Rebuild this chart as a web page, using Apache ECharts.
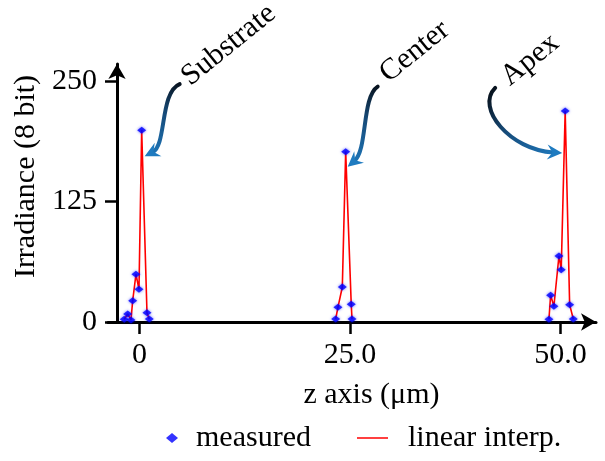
<!DOCTYPE html>
<html><head><meta charset="utf-8">
<script src="https://cdn.jsdelivr.net/npm/echarts@6/dist/echarts.min.js"></script>
<style>html,body{margin:0;padding:0;background:#fff}#c{width:605px;height:461px}</style>
</head><body><div id="c"></div>
<script>
// ---- data ----
const substrateZ = [-1.81, -1.40, -1.01, -0.81, -0.42, -0.06, 0.26, 0.89, 1.16];
const substrateI = [2.8, 8.3, 2.1, 22, 49.5, 34, 199, 9.6, 3];
const centerZ = [23.30, 23.57, 24.09, 24.49, 25.15, 25.24];
const centerI = [3.1, 15.2, 36.3, 176.7, 18.3, 3.1];
const apexZ = [48.63, 48.83, 49.22, 49.82, 50.09, 50.56, 51.09, 51.52];
const apexI = [2.8, 27.7, 16.3, 68.5, 54.3, 218.9, 18, 3.1];
const xTicks = [0, 25, 50];
const yTicks = [0, 125, 250];
const annotationLabels = ['Substrate', 'Center', 'Apex'];

const FONT = '"Liberation Serif", "Times New Roman", serif';
const pairs = (zs, is) => zs.map((z, i) => [z, is[i]]);
const clusters = [pairs(substrateZ, substrateI), pairs(centerZ, centerI), pairs(apexZ, apexI)];
const allPts = [].concat(...clusters);

const chart = echarts.init(document.getElementById('c'), null, {renderer: 'canvas'});

const lineSeries = clusters.map(c => ({
  name: 'linear interp.', type: 'line', data: c, symbol: 'none',
  lineStyle: {color: '#ff0000', width: 1.6}, itemStyle: {color: '#ff0000'}, z: 2, silent: true
}));

const option = {
  animation: false,
  backgroundColor: '#fff',
  grid: {left: 108, right: 9, top: 64, bottom: 139, containLabel: false},
  xAxis: {
    type: 'value', min: -3.74, max: 54.22,
    name: 'z axis (μm)', nameLocation: 'middle', nameGap: 58,
    nameTextStyle: {fontFamily: FONT, fontSize: 30, color: '#000', padding: [0, 0, 0, 39]},
    axisLine: {onZero: false, symbol: ['none', 'arrow'], symbolSize: [13, 15], lineStyle: {color: '#000', width: 3}},
    axisTick: {customValues: xTicks, length: 12, lineStyle: {color: '#000', width: 2.5}},
    axisLabel: {customValues: xTicks, margin: 18, fontFamily: FONT, fontSize: 30, color: '#000',
      formatter: v => v === 0 ? '0' : v.toFixed(1)},
    splitLine: {show: false}
  },
  yAxis: {
    type: 'value', min: 0, max: 267.6, offset: -9,
    name: 'Irradiance (8 bit)', nameLocation: 'middle', nameGap: 66,
    nameTextStyle: {fontFamily: FONT, fontSize: 30, color: '#000', padding: [0, 0, 0, 33]},
    axisLine: {onZero: false, symbol: ['none', 'arrow'], symbolSize: [13, 15], lineStyle: {color: '#000', width: 3}},
    axisTick: {customValues: yTicks, length: 12, lineStyle: {color: '#000', width: 2.5}},
    axisLabel: {customValues: yTicks, margin: 20, fontFamily: FONT, fontSize: 30, color: '#000'},
    splitLine: {show: false}
  },
  legend: [
    {data: [{name: 'measured', icon: 'diamond'}], left: 166, top: 423, padding: 0, itemWidth: 12, itemHeight: 10,
      textStyle: {fontFamily: FONT, fontSize: 30, color: '#000', padding: [0, 0, 0, 13]}, selectedMode: false},
    {data: [{name: 'linear interp.', icon: 'rect'}], left: 357, top: 423, padding: 0, itemWidth: 31, itemHeight: 2,
      itemStyle: {color: '#ff4040'},
      textStyle: {fontFamily: FONT, fontSize: 30, color: '#000', padding: [0, 0, 0, 15]}, selectedMode: false}
  ],
  series: lineSeries.concat([{
    name: 'measured', type: 'scatter', data: allPts, symbol: 'diamond', symbolSize: [9, 7],
    itemStyle: {color: '#0000ff', shadowBlur: 3, shadowColor: 'rgba(0,0,255,0.7)'}, z: 3, silent: true
  }])
};
chart.setOption(option);

// ---- annotations anchored to the peak of each cluster ----
const peakIdx = [6, 3, 5];
const geom = [
  {p0: [38, -46], p1: [18, -38], p2: [25, 15], tip: [3, 26], text: [87, -85]},
  {p0: [32, -65], p1: [16, -55], p2: [22, -2], tip: [2, 15], text: [69, -100]},
  {p0: [-70, -23], p1: [-90, -3], p2: [-55, 39], tip: [-3, 42], text: [-35, -51]}
];
const graphics = [];
clusters.forEach((c, k) => {
  const pk = chart.convertToPixel({gridIndex: 0}, c[peakIdx[k]]);
  const g = geom[k];
  const P = a => [pk[0] + a[0], pk[1] + a[1]];
  const p0 = P(g.p0), p1 = P(g.p1), p2 = P(g.p2), tip = P(g.tip);
  let dx = tip[0] - p2[0], dy = tip[1] - p2[1];
  const L = Math.hypot(dx, dy); dx /= L; dy /= L;
  const nx = -dy, ny = dx;
  const hl = 15, hw = 7.5;
  const end = [tip[0] - dx * 9, tip[1] - dy * 9];
  const grad = new echarts.graphic.LinearGradient(p0[0], p0[1], tip[0], tip[1],
    [{offset: 0, color: '#08131f'}, {offset: 0.4, color: '#164a78'}, {offset: 1, color: '#1f7bc0'}], true);
  graphics.push({
    type: 'bezierCurve', silent: true, z: 10,
    shape: {x1: p0[0], y1: p0[1], cpx1: p1[0], cpy1: p1[1], cpx2: p2[0], cpy2: p2[1], x2: end[0], y2: end[1]},
    style: {stroke: grad, lineWidth: 4, fill: 'none', lineCap: 'round'}
  });
  graphics.push({
    type: 'polygon', silent: true, z: 11,
    shape: {points: [
      tip,
      [tip[0] - dx * hl + nx * hw, tip[1] - dy * hl + ny * hw],
      [tip[0] - dx * hl * 0.65, tip[1] - dy * hl * 0.65],
      [tip[0] - dx * hl - nx * hw, tip[1] - dy * hl - ny * hw]
    ]},
    style: {fill: '#1f7bc0'}
  });
  const t = P(g.text);
  graphics.push({
    type: 'text', silent: true, z: 12, x: t[0], y: t[1], rotation: 0.68,
    style: {text: annotationLabels[k], fontSize: 30, fontFamily: FONT, fill: '#000',
      align: 'center', verticalAlign: 'middle', textAlign: 'center', textVerticalAlign: 'middle'}
  });
});
chart.setOption({graphic: graphics});
</script>
</body></html>
